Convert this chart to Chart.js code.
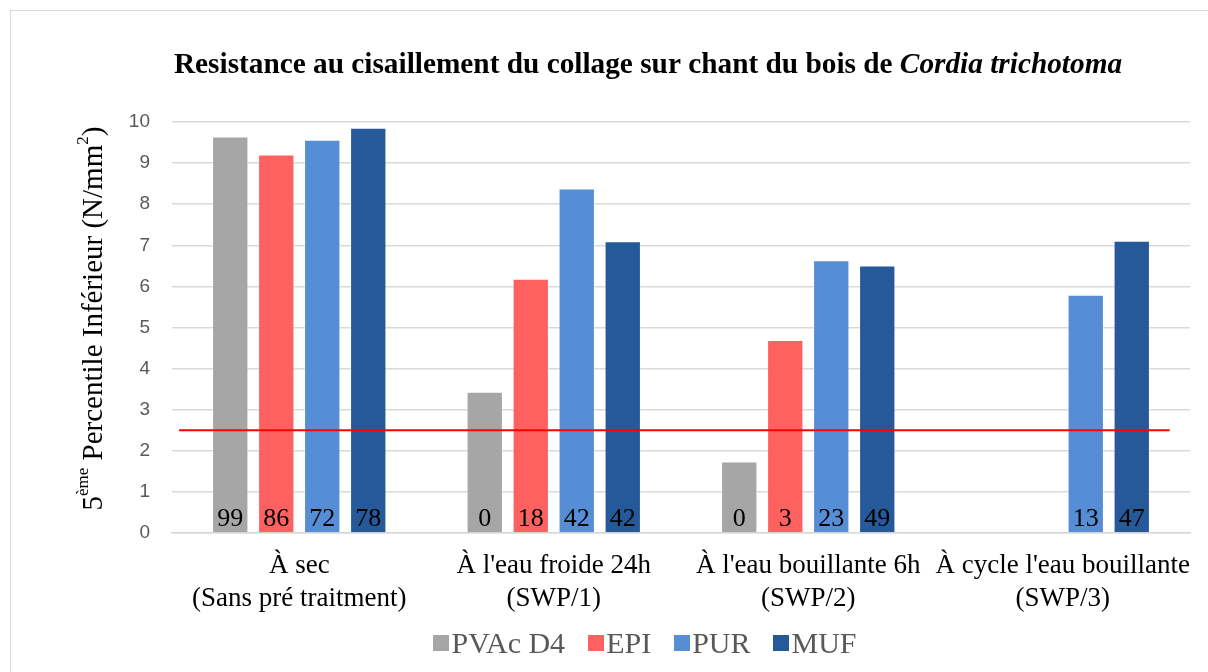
<!DOCTYPE html>
<html>
<head>
<meta charset="utf-8">
<script src="https://cdn.jsdelivr.net/npm/chart.js@4/dist/chart.umd.min.js"></script>
<style>
html,body{margin:0;padding:0;background:#fff;}
#wrap{position:relative;width:1208px;height:672px;overflow:hidden;}
#frame{position:absolute;left:10px;top:10px;width:1210px;height:700px;border:1px solid #d9d9d9;box-sizing:border-box;}
canvas{position:absolute;left:0;top:0;}
#legend{position:absolute;left:0;top:624px;width:1208px;height:38px;display:flex;justify-content:center;align-items:center;
  font-family:'Liberation Serif','Times New Roman',serif;font-size:30px;color:#595959;padding-left:82px;box-sizing:border-box;}
.item{display:flex;align-items:center;margin:0 11.5px;}
.sw{width:16px;height:16px;margin-right:2px;}
</style>
</head>
<body>
<div id="wrap"><div id="frame"></div><canvas id="c" width="1208" height="672"></canvas><div id="legend"></div></div>
<script>
const categories = [["À sec","(Sans pré traitment)"],["À l'eau froide 24h","(SWP/1)"],["À l'eau bouillante 6h","(SWP/2)"],["À cycle l'eau bouillante","(SWP/3)"]];
const seriesNames = ["PVAc D4","EPI","PUR","MUF"];
const pvacValues = [9.65, 3.44, 1.74, null];
const epiValues  = [9.21, 6.19, 4.70, null];
const purValues  = [9.57, 8.38, 6.64, 5.80];
const mufValues  = [9.86, 7.10, 6.51, 7.11];
const pvacLabels = ["99","0","0",null];
const epiLabels  = ["86","18","3",null];
const purLabels  = ["72","42","23","13"];
const mufLabels  = ["78","42","49","47"];
const thresholdValue = 2.5;
const yTicks = [0,1,2,3,4,5,6,7,8,9,10];
const titleMain = "Resistance au cisaillement du collage sur chant du bois de ";
const titleItalic = "Cordia trichotoma";

const colors = ["#A6A6A6","#FF6161","#558ED5","#265999"];
const barLabels = [pvacLabels, epiLabels, purLabels, mufLabels];
const serif = "'Liberation Serif','Times New Roman',serif";
const sans = "'Liberation Sans',Arial,sans-serif";

const titlePlugin = {
  id:'customTitle',
  afterDraw(chart){
    const ctx = chart.ctx;
    ctx.save();
    ctx.fillStyle = '#000';
    ctx.textBaseline = 'middle';
    const f1 = "bold 29.3px " + serif, f2 = "bold italic 29.3px " + serif;
    ctx.font = f1; const w1 = ctx.measureText(titleMain).width;
    ctx.font = f2; const w2 = ctx.measureText(titleItalic).width;
    let x = 648 - (w1 + w2)/2;
    const y = 65;
    ctx.font = f1; ctx.textAlign='left'; ctx.fillText(titleMain, x, y);
    ctx.font = f2; ctx.fillText(titleItalic, x + w1, y);
    ctx.restore();
  }
};

const yTitlePlugin = {
  id:'yTitle',
  afterDraw(chart){
    const ctx = chart.ctx;
    const parts = [
      {t:"5", f:"29px "+serif, dy:0},
      {t:"ème", f:"17px "+serif, dy:-10},
      {t:" Percentile Inférieur (N/mm", f:"29px "+serif, dy:0},
      {t:"2", f:"17px "+serif, dy:-10},
      {t:")", f:"29px "+serif, dy:0}
    ];
    ctx.save();
    let total = 0;
    parts.forEach(p=>{ctx.font=p.f; p.w=ctx.measureText(p.t).width; total+=p.w;});
    const ya = chart.scales.y;
    const cy = (ya.top + ya.bottom)/2 - 9;
    ctx.translate(94, cy);
    ctx.rotate(-Math.PI/2);
    ctx.fillStyle = '#000';
    ctx.textBaseline = 'middle';
    ctx.textAlign = 'left';
    let x = -total/2;
    parts.forEach(p=>{ctx.font=p.f; ctx.fillText(p.t, x, p.dy); x+=p.w;});
    ctx.restore();
  }
};

const thresholdPlugin = {
  id:'threshold',
  afterDatasetsDraw(chart){
    const ctx = chart.ctx, a = chart.chartArea;
    const y = chart.scales.y.getPixelForValue(thresholdValue);
    const w = a.right - a.left;
    ctx.save();
    ctx.strokeStyle = '#FF0000';
    ctx.lineWidth = 2;
    ctx.beginPath();
    ctx.moveTo(a.left + 0.007*w, y);
    ctx.lineTo(a.left + 0.98*w, y);
    ctx.stroke();
    ctx.restore();
  }
};

const barLabelPlugin = {
  id:'barLabels',
  afterDraw(chart){
    const ctx = chart.ctx;
    const zero = chart.scales.y.getPixelForValue(0);
    ctx.save();
    ctx.font = "26px " + serif;
    ctx.fillStyle = '#000';
    ctx.textAlign = 'center';
    ctx.textBaseline = 'alphabetic';
    barLabels.forEach((labs, di)=>{
      const meta = chart.getDatasetMeta(di);
      labs.forEach((l, i)=>{
        if(l===null) return;
        const el = meta.data[i];
        ctx.fillText(l, el.x, zero - 7);
      });
    });
    ctx.restore();
  }
};

const datasets = [pvacValues, epiValues, purValues, mufValues].map((d,i)=>({
  label:seriesNames[i], data:d, backgroundColor:colors[i],
  borderColor:'rgba(255,255,255,0.35)', borderWidth:1
}));

const chart = new Chart(document.getElementById('c'), {
  type:'bar',
  data:{labels:categories, datasets},
  options:{
    responsive:false, animation:false,
    datasets:{bar:{barPercentage:0.79, categoryPercentage:0.723}},
    layout:{padding:{left:0,right:18,top:122,bottom:49}},
    plugins:{
      legend:{display:false},
      tooltip:{enabled:false}
    },
    scales:{
      x:{offset:true, grid:{display:false}, border:{color:'#d9d9d9',width:1.5},
        ticks:{color:'#000', font:{family:serif,size:27,lineHeight:1.22}, padding:8, maxRotation:0, autoSkip:false}},
      y:{min:0, max:10, afterFit(s){s.width=172;},
        afterBuildTicks(s){s.ticks = yTicks.map(v=>({value:v}));},
        grid:{color:'#d9d9d9', lineWidth:1.5, drawTicks:false}, border:{display:false},
        ticks:{color:'#595959', font:{family:sans,size:19}, padding:22}}
    }
  },
  plugins:[titlePlugin, yTitlePlugin, thresholdPlugin, barLabelPlugin]
});

const leg = document.getElementById('legend');
chart.data.datasets.forEach(ds=>{
  const it = document.createElement('div'); it.className='item';
  const sw = document.createElement('div'); sw.className='sw'; sw.style.background=ds.backgroundColor;
  const tx = document.createElement('span'); tx.textContent = ds.label;
  it.appendChild(sw); it.appendChild(tx); leg.appendChild(it);
});
</script>
</body>
</html>
